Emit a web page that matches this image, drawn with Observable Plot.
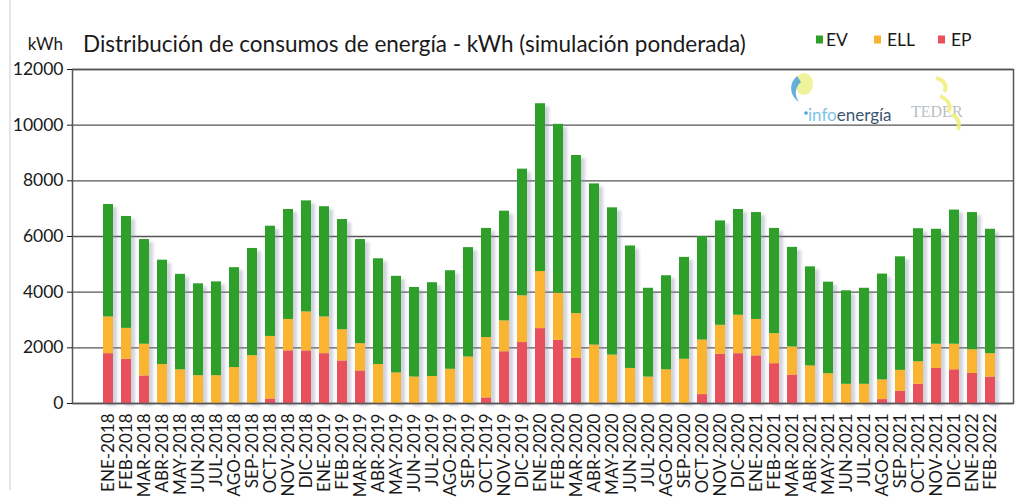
<!DOCTYPE html>
<html><head><meta charset="utf-8">
<script src="https://cdn.jsdelivr.net/npm/d3@7"></script>
<script src="https://cdn.jsdelivr.net/npm/@observablehq/plot@0.6"></script>
<style>
body{margin:0;background:#fff;}
#wrap{position:relative;width:1016px;height:499px;overflow:hidden;background:#fff;}
</style></head><body>
<div id="wrap"></div>
<script>
const months = ["ENE-2018","FEB-2018","MAR-2018","ABR-2018","MAY-2018","JUN-2018","JUL-2018","AGO-2018","SEP-2018","OCT-2018","NOV-2018","DIC-2018",
"ENE-2019","FEB-2019","MAR-2019","ABR-2019","MAY-2019","JUN-2019","JUL-2019","AGO-2019","SEP-2019","OCT-2019","NOV-2019","DIC-2019",
"ENE-2020","FEB-2020","MAR-2020","ABR-2020","MAY-2020","JUN-2020","JUL-2020","AGO-2020","SEP-2020","OCT-2020","NOV-2020","DIC-2020",
"ENE-2021","FEB-2021","MAR-2021","ABR-2021","MAY-2021","JUN-2021","JUL-2021","AGO-2021","SEP-2021","OCT-2021","NOV-2021","DIC-2021",
"ENE-2022","FEB-2022"];
// EP (punta, bottom), ELL (llano, middle), EV (valle, top) in kWh
const ep  = [1790,1590,990,0,0,0,0,0,0,160,1890,1890, 1790,1530,1170,0,0,0,0,0,0,200,1860,2190, 2690,2270,1620,0,0,0,0,0,0,320,1770,1790, 1710,1430,1020,0,0,0,0,140,440,690,1260,1210, 1080,950];
const ell = [1320,1110,1140,1400,1210,1000,1000,1290,1720,2250,1130,1400, 1320,1120,980,1400,1100,950,970,1230,1670,2170,1110,1680, 2050,1690,1610,2100,1740,1260,950,1210,1590,1960,1040,1380, 1310,1080,1010,1350,1070,690,690,710,750,810,870,920, 850,840];
const ev  = [4040,4020,3760,3750,3430,3300,3370,3590,3850,3960,3950,3990, 3960,3960,3740,3800,3470,3220,3370,3540,3930,3920,3940,4550, 6030,6070,5680,5790,5290,4400,3190,3380,3660,3720,3750,3800, 3840,3780,3580,3560,3290,3360,3450,3800,4080,4780,4130,4820, 4930,4470];
const series = ["EV","ELL","EP"];
const seriesColors = ["#2ea02a","#fbb430","#e8505c"];
const yTicks = [0,2000,4000,6000,8000,10000,12000];
const title = "Distribución de consumos de energía - kWh (simulación ponderada)";
const unit = "kWh";

const data = months.flatMap((m,i)=>[
  {m, s:"EP", v:ep[i]},
  {m, s:"ELL", v:ell[i]},
  {m, s:"EV", v:ev[i]}
]);

const chart = Plot.plot({
  width:1016, height:499,
  marginLeft:72, marginRight:3, marginTop:69, marginBottom:96,
  style:{fontFamily:"Lato, sans-serif", fontSize:"16px", color:"#1a1a1a", background:"transparent"},
  x:{domain:months, type:"band", range:[88,1009.4], paddingInner:0.46, paddingOuter:0, label:null},
  y:{domain:[0,12000], label:null},
  color:{domain:series, range:seriesColors},
  marks:[
    Plot.ruleY(yTicks,{stroke:"#555", strokeWidth:1.4}),
    Plot.barY(data,{x:"m", y:"v", fill:"#8a92aa", fillOpacity:0.4, dx:4, dy:3}),
    Plot.barY(data,{x:"m", y:"v", fill:"s"}),
    Plot.frame({stroke:"#555", strokeWidth:1.5}),
    Plot.axisY(yTicks,{tickSize:5, tickPadding:4, fontSize:17.5, tickFormat:d=>String(d), label:null}),
    Plot.axisX({tickRotate:-90, tickSize:0, tickPadding:10, fontSize:17, label:null})
  ]
});
document.getElementById("wrap").appendChild(chart);

const svg = d3.select(chart);
const defs = svg.insert("defs",":first-child");
defs.append("filter").attr("id","shblur").attr("x","-50%").attr("y","-10%").attr("width","200%").attr("height","120%")
  .append("feGaussianBlur").attr("stdDeviation",1.8);
const barGroups = svg.selectAll('g[aria-label="bar"]').nodes();
if (barGroups.length) d3.select(barGroups[0]).attr("filter","url(#shblur)");

// page border line
svg.append("line").attr("x1",10).attr("x2",10).attr("y1",0).attr("y2",490).attr("stroke","#d6d6d6").attr("stroke-width",1.2);

// header texts
const hdr = svg.append("g").attr("font-family","Lato, sans-serif").attr("fill","#1a1a1a").attr("text-anchor","start");
hdr.append("text").attr("x",63).attr("y",50).attr("text-anchor","end").attr("font-size",17).text(unit);
hdr.append("text").attr("x",83).attr("y",52).attr("font-size",22.5).attr("text-anchor","start").text(title);

// legend
const leg = [
  {s:"EV", sx:816, tx:826},
  {s:"ELL", sx:874, tx:887},
  {s:"EP", sx:938, tx:951}
];
leg.forEach((d,i)=>{
  hdr.append("rect").attr("x",d.sx).attr("y",35.5).attr("width",7).attr("height",8).attr("fill",seriesColors[series.indexOf(d.s)]);
  hdr.append("text").attr("x",d.tx).attr("y",45.5).attr("font-size",17.5).attr("text-anchor","start").text(d.s);
});

// logos (decorative)
const logo = svg.append("g").attr("text-anchor","start");
logo.append("ellipse").attr("cx",804).attr("cy",84).attr("rx",9).attr("ry",11).attr("fill","#e9ef7a").attr("opacity",0.75);
logo.append("path").attr("d","M797,76 C788,84 790,96 799,102 C794,95 795,87 801,82").attr("fill","#4aa2dc").attr("opacity",0.85);
logo.append("circle").attr("cx",806).attr("cy",113).attr("r",1.8).attr("fill","#4aa2dc");
const lt = logo.append("text").attr("x",808).attr("y",121).attr("font-family","Lato, sans-serif").attr("font-size",17);
lt.append("tspan").attr("fill","#7cc3e6").text("info");
lt.append("tspan").attr("fill","#3b5670").text("energía");
logo.append("text").attr("x",911).attr("y",117).attr("font-family","Liberation Serif, serif").attr("font-size",16).attr("fill","#b9bec6").text("TEDER");
logo.append("path").attr("d","M936,78 C944,80 948,86 944,92 M940,96 C948,99 952,106 948,112 M952,114 C958,118 960,124 958,130").attr("fill","none").attr("stroke","#eef07a").attr("stroke-width",4).attr("opacity",0.85);
</script>
</body></html>
